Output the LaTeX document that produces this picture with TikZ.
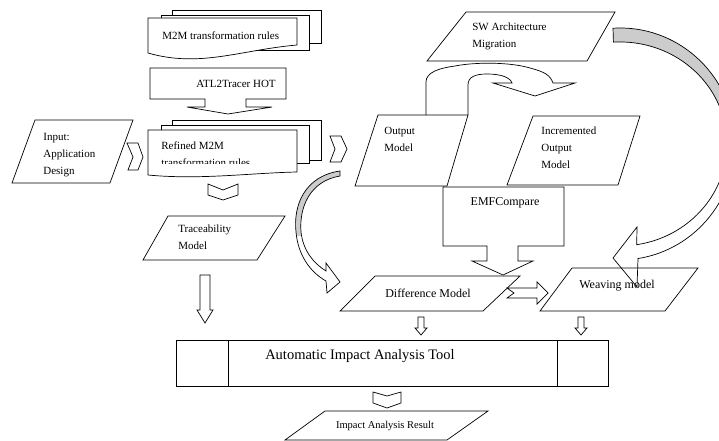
\documentclass[tikz,border=0pt]{standalone}
\usepackage{fontspec}
\setmainfont{Liberation Serif}
\tikzset{
  txt/.style={font=\fontsize{11}{17}\selectfont, inner sep=0pt},
  bigtxt/.style={font=\fontsize{12}{14}\selectfont, inner sep=0pt},
  part/.style={line width=0.7pt, fill=white},
  band/.style={fill=black!20}
}
\begin{document}
\begin{tikzpicture}[x=1pt, y=-1pt, line width=0.7pt]
		%%%%% START %%%%%
		\useasboundingbox (0,0) rectangle (719,441);
		
		% M2M rules, stack of pages
		\draw[part] (172,10) rectangle (321,43);
		\draw[part] (161,15) rectangle (309,50);
		\draw[part] (148,18) -- (297,18) -- (297,45) .. controls (240,50) and (200,68) .. (148,53) -- cycle;
		\node[txt, anchor=north west] (m2m) at (162,31) {M2M transformation rules};
		
		\draw[part] (150,68) -- (286,68) -- (286,99) -- (246,99) -- (246,107) -- (272,107) -- (228,114) -- (187,107) -- (205,107) -- (205,99) -- (150,99) -- cycle;
		\node[txt] (atl) at (236,84) {ATL2Tracer HOT};
		
		% refined rules, second line cut short
		\draw[part] (172,120) rectangle (321,160);
		\draw[part] (161,125) rectangle (309,163);
		\draw[part] (148,130) -- (297,130) -- (297,172) .. controls (250,173) and (200,180) .. (148,175) -- cycle;
		\begin{scope}
			\clip (148,130) rectangle (297,163.5);
			\node[txt, anchor=north west, align=left] (refined) at (161,141) {Refined M2M\\transformation rules};
		\end{scope}
		
		\draw[part] (35,120) -- (133,120) -- (110,183) -- (12,183) -- cycle;
		\node[txt, anchor=north west, align=left] (input) at (43,133) {Input:\\Application\\Design};
		
		\draw (127,143) -- (138,143) -- (143,157) -- (138,170) -- (128,170) -- (133,157) -- cycle;
		\draw (330,136) -- (341,136) -- (347,149) -- (341,162) -- (330,162) -- (335,149) -- cycle;
		\draw (208,184) -- (223,190) -- (238,184) -- (238,195) -- (223,200) -- (208,195) -- cycle;
		
		\draw (168,216) -- (285,216) -- (257,260) -- (143,260) -- cycle;
		\node[txt, anchor=north west, align=left] (trace) at (178,225) {Traceability\\Model};
		\draw (200,275) -- (210,275) -- (210,310) -- (213,310) -- (205,323) -- (197,310) -- (200,310) -- cycle;
		
		% gray bent arrow, left
		\begin{scope}
			\clip (0,0) rectangle (719,235);
			\fill[band] (340,171) .. controls (305,176) and (293,205) .. (296,232) .. controls (298,255) and (310,272) .. (326,281) -- (327,293) -- (340,282) -- (326,263) -- (326,271) .. controls (313,263) and (303,250) .. (301,232) .. controls (299,207) and (310,181) .. (340,176) -- cycle;
		\end{scope}
		\draw (340,171) .. controls (305,176) and (293,205) .. (296,232) .. controls (298,255) and (310,272) .. (326,281) -- (327,293) -- (340,282) -- (326,263) -- (326,271) .. controls (313,263) and (303,250) .. (301,232) .. controls (299,207) and (310,181) .. (340,176) -- cycle;
		
		% models on the right
		\draw[part] (466,12) -- (615,12) -- (587,61) -- (427,61) -- cycle;
		\node[txt, anchor=north west, align=left] (sw) at (472,23) {SW Architecture\\Migration};
		
		\draw[part] (378,115) -- (468,115) -- (447,186) -- (355,186) -- cycle;
		\node[txt, anchor=north west, align=left] (output) at (384,127) {Output\\Model};
		\draw[part] (533,116) -- (640,116) -- (618,185) -- (507,185) -- cycle;
		\node[txt, anchor=north west, align=left] (incr) at (541,127) {Incremented\\Output\\Model};
		
		\draw (426,115) -- (426,82) .. controls (426,72) and (440,68) .. (455,66) .. controls (475,62) and (510,62) .. (530,68) .. controls (545,72) and (550,75) .. (553,83) -- (575,83) -- (535,96) -- (493,83) -- (512,83) .. controls (510,77) and (500,74) .. (487,74) .. controls (475,74) and (468,77) .. (468,85) -- (468,115);
		
		\draw[part] (443,187) -- (564,187) -- (564,246) -- (518,246) -- (518,261) -- (533,261) -- (503,275) -- (472,261) -- (487,261) -- (487,246) -- (443,246) -- cycle;
		\node[bigtxt] (emf) at (505,203) {EMFCompare};
		
		\draw (375,276) -- (520,276) -- (483,311) -- (340,311) -- cycle;
		\node[bigtxt] (diff) at (428,293) {Difference Model};
		\draw (572,268) -- (698,268) -- (665,311) -- (540,311) -- cycle;
		\node[bigtxt] (weave) at (617,286) {Weaving model};
		
		\draw (507,288) -- (537,288) -- (537,282) -- (548,293) -- (537,304) -- (537,298) -- (507,298) -- (514,293) -- cycle;
		\draw (418,317) -- (424,317) -- (424,328) -- (427,328) -- (421,335) -- (415,328) -- (418,328) -- cycle;
		\draw (578,317) -- (584,317) -- (584,328) -- (587,328) -- (581,335) -- (575,328) -- (578,328) -- cycle;
		
		% gray bent arrow, right, runs off the page
		\begin{scope}
			\clip (540,0) rectangle (719,150);
			\fill[band] (613,28.2) arc[start angle=266.5, end angle=441, x radius=115, y radius=116] -- (637,287) -- (613,258) -- (637,227) -- (636.7,244.7) arc[start angle=441, end angle=266.5, x radius=107, y radius=102] -- cycle;
		\end{scope}
		\draw (613,28.2) arc[start angle=266.5, end angle=441, x radius=115, y radius=116] -- (637,287) -- (613,258) -- (637,227) -- (636.7,244.7) arc[start angle=441, end angle=266.5, x radius=107, y radius=102] -- cycle;
		
		% impact analysis tool
		\draw (176,340) rectangle (608,386);
		\draw (228,340) -- (228,386);
		\draw (557,340) -- (557,386);
		\node[font=\fontsize{14.5}{17}\selectfont, inner sep=0pt] (tool) at (360,356) {Automatic Impact Analysis Tool};
		
		\draw (373,392) -- (387,396) -- (401,392) -- (401,403) -- (387,408) -- (373,403) -- cycle;
		\draw (325,411) -- (488,411) -- (447,440) -- (285,440) -- cycle;
		\node[font=\fontsize{10.5}{12}\selectfont, inner sep=0pt] (result) at (385,426) {Impact Analysis Result};
		
		%%%%% END %%%%%
\end{tikzpicture}
\end{document}
